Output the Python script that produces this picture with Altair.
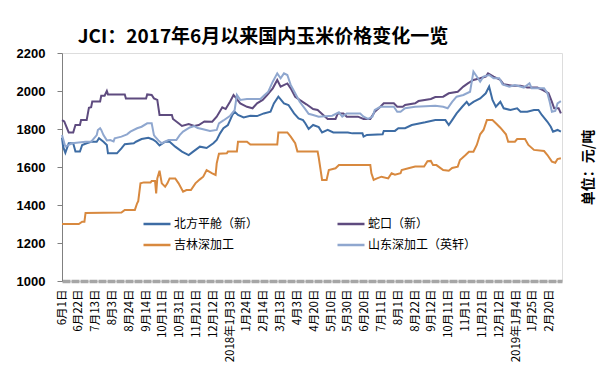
import altair as alt
import pandas as pd

tick_labels = ['6月1日', '6月22日', '7月13日', '8月3日', '8月24日', '9月14日', '10月11日', '10月31日',
               '11月21日', '12月12日', '2018年1月3日', '1月24日', '2月14日', '3月13日', '4月3日',
               '4月20日', '5月10日', '5月30日', '6月20日', '7月11日', '8月1日', '8月22日', '9月12日',
               '10月11日', '11月1日', '11月21日', '12月12日', '2019年1月4日', '1月25日', '2月20日']

series_names = ['北方平舱（新）', '吉林深加工', '蛇口（新）', '山东深加工（英轩）']
series_colors = ['#3D6CA4', '#D8893F', '#5E4B7F', '#8FA7CF']

# (trading-day index, price)
beifang = [(0,1755),(1,1707),(3,1675),(6,1725),(10,1725),(12,1681),(16,1681),(18,1716),(22,1725),(26,1733),
           (31,1733),(33,1751),(37,1733),(40,1716),(41,1672),(49,1672),(53,1698),(56,1720),(64,1725),(66,1733),
           (71,1747),(77,1754),(81,1745),(84,1733),(87,1714),(92,1733),(96,1733),(101,1707),(107,1681),(113,1663),
           (117,1681),(123,1707),(129,1700),(135,1725),(138,1742),(141,1777),(144,1804),(148,1821),(152,1874),
           (154,1891),(157,1874),(162,1861),(168,1870),(174,1868),(180,1882),(186,1891),(189,1935),(193,1970),
           (198,1935),(202,1926),(207,1882),(211,1856),(215,1847),(217,1830),(220,1800),(224,1821),(229,1810),
           (232,1782),(237,1795),(242,1782),(255,1782),(259,1777),(268,1777),(269,1760),(272,1769),(286,1772),
           (287,1790),(297,1790),(300,1804),(306,1804),(312,1821),(324,1835),(333,1847),(342,1847),(345,1821),
           (348,1847),(352,1882),(357,1917),(361,1943),(363,1926),(367,1943),(373,1961),(378,1988),(381,2023),
           (384,1953),(387,1917),(391,1943),(394,1909),(400,1900),(406,1909),(409,1891),(415,1891),(421,1900),
           (425,1900),(428,1874),(433,1838),(436,1812),(438,1786),(442,1795),(445,1786)]

shekou = [(0,1847),(2,1840),(6,1782),(10,1782),(12,1821),(16,1821),(17,1847),(22,1847),(24,1912),(26,1915),
          (27,1945),(34,1945),(35,1975),(38,1975),(40,2000),(41,1982),(56,1982),(57,1961),(75,1961),(76,1982),
          (80,1979),(82,1961),(85,1953),(87,1874),(98,1874),(99,1853),(104,1830),(107,1816),(113,1826),(118,1816),
          (122,1821),(127,1840),(134,1838),(138,1865),(143,1914),(146,1905),(150,1945),(153,1979),(155,1965),
          (159,1935),(165,1917),(170,1909),(174,1935),(179,1953),(183,1979),(188,2014),(192,2058),(195,2023),
          (201,2040),(204,2014),(208,1970),(212,1953),(218,1930),(224,1905),(228,1900),(233,1874),(237,1853),
          (244,1853),(246,1882),(251,1882),(254,1865),(264,1865),(269,1853),(275,1853),(279,1891),(284,1917),
          (287,1935),(296,1935),(299,1917),(304,1917),(306,1926),(315,1935),(318,1947),(329,1958),(333,1968),
          (340,1970),(345,1988),(353,1996),(358,2023),(362,2040),(367,2058),(373,2067),(378,2076),(380,2093),
          (385,2076),(391,2058),(394,2035),(402,2028),(409,2028),(415,2018),(424,2018),(429,2005),(434,1988),
          (437,1943),(439,1909),(443,1909),(445,1882)]

jilin = [(0,1300),(15,1300),(18,1312),(20,1312),(21,1358),(53,1360),(56,1374),(65,1374),(67,1409),(68,1420),
         (70,1514),(73,1519),(79,1519),(80,1526),(83,1526),(84,1461),(85,1540),(87,1580),(89,1514),(92,1496),
         (94,1514),(96,1540),(101,1540),(104,1514),(108,1470),(111,1479),(115,1479),(119,1514),(123,1535),
         (126,1549),(129,1584),(134,1567),(137,1558),(138,1619),(140,1670),(147,1672),(148,1681),(156,1681),
         (157,1733),(165,1733),(168,1718),(192,1718),(193,1782),(201,1782),(204,1760),(208,1725),(210,1681),
         (228,1681),(229,1650),(232,1532),(236,1532),(238,1584),(244,1593),(247,1610),(275,1610),(276,1567),
         (278,1532),(281,1540),(285,1549),(291,1540),(294,1567),(297,1560),(302,1567),(303,1584),(309,1593),
         (315,1602),(323,1602),(326,1630),(329,1632),(331,1610),(334,1610),(340,1584),(345,1580),(348,1595),
         (353,1602),(355,1637),(360,1663),(363,1680),(367,1680),(370,1716),(373,1772),(376,1795),(379,1847),
         (384,1847),(387,1830),(391,1807),(396,1772),(398,1733),(404,1733),(406,1747),(413,1747),(416,1716),
         (421,1690),(430,1684),(433,1663),(437,1628),(440,1622),(442,1642),(445,1646)]

shandong = [(0,1768),(3,1707),(6,1716),(9,1725),(21,1733),(26,1733),(31,1768),(32,1795),(34,1804),(35,1795),
            (37,1768),(40,1740),(43,1742),(46,1735),(47,1751),(53,1760),(58,1772),(61,1786),(67,1804),(71,1812),
            (76,1830),(80,1830),(82,1768),(83,1760),(86,1740),(89,1725),(95,1742),(102,1742),(105,1768),(108,1786),
            (114,1808),(118,1815),(121,1805),(125,1800),(132,1790),(138,1795),(140,1830),(144,1845),(150,1870),
            (154,1900),(156,1979),(159,1953),(165,1958),(177,1958),(180,1975),(184,1996),(188,2049),(192,2093),
            (195,2067),(198,2093),(201,2084),(204,2032),(208,1988),(212,1943),(217,1905),(220,1880),(224,1874),
            (229,1865),(241,1870),(247,1888),(250,1865),(254,1882),(266,1882),(269,1865),(273,1853),(277,1865),
            (279,1900),(284,1917),(296,1917),(299,1891),(302,1891),(306,1909),(315,1917),(333,1922),(340,1917),
            (344,1909),(348,1943),(352,1970),(358,1979),(364,1996),(367,2102),(370,2076),(373,2049),(376,2076),
            (381,2084),(385,2067),(390,2067),(393,2035),(399,2023),(404,2032),(412,2018),(417,2040),(419,2014),
            (430,2014),(433,1988),(435,1943),(437,1891),(440,1895),(442,1935),(445,1947)]

rows = []
for name, pts in [('北方平舱（新）', beifang), ('蛇口（新）', shekou),
                  ('吉林深加工', jilin), ('山东深加工（英轩）', shandong)]:
    for order, (i, v) in enumerate(pts):
        rows.append({'series': name, 'i': i, 'price': v, 'order': order})
df = pd.DataFrame(rows)

label_js = "[" + ",".join("'" + t + "'" for t in tick_labels) + "]"
FONT = 'Noto Sans CJK SC'

x_enc = alt.X('i:Q',
              scale=alt.Scale(domain=[0, 446], nice=False, zero=False),
              axis=alt.Axis(values=[k * 15 for k in range(len(tick_labels))],
                            labelExpr=label_js + "[round(datum.value/15)]",
                            labelAngle=270, labelFont=FONT, labelFontSize=11.5, labelColor='#000000',
                            labelPadding=8, ticks=False, grid=False, title=None,
                            domainColor='#A6A6A6', domainWidth=3.5, domainDash=[8, 1],
                            labelOverlap=False, labelBound=False))

y_scale = alt.Scale(domain=[1000, 2200], nice=False, zero=False)

lines = alt.Chart(df).mark_line(strokeWidth=2).encode(
    x=x_enc,
    y=alt.Y('price:Q', scale=y_scale,
            axis=alt.Axis(values=[1000, 1200, 1400, 1600, 1800, 2000, 2200], format='d', grid=False, title=None,
                          labelFont='Liberation Sans', labelFontWeight='bold', labelFontSize=13,
                          labelColor='#000000', tickColor='#808080', tickSize=5, domainColor='#808080',
                          labelPadding=12)),
    color=alt.Color('series:N',
                    scale=alt.Scale(domain=series_names, range=series_colors),
                    legend=alt.Legend(title=None, orient='none', legendX=80, legendY=156, columns=2,
                                      columnPadding=73, rowPadding=-9, symbolType='stroke',
                                      symbolSize=729, symbolStrokeWidth=2.5, labelFont=FONT,
                                      labelFontSize=12, labelColor='#000000', labelOffset=2,
                                      padding=0)),
    order='order:Q'
)

unit = alt.Chart(df).mark_line(opacity=0).encode(
    x=x_enc,
    y=alt.Y('price:Q', scale=y_scale,
            axis=alt.Axis(orient='right', labels=False, ticks=False, domain=False, grid=False,
                          title='单位：元/吨', titleAngle=270, titleFont=FONT, titleFontWeight='bold',
                          titleFontSize=14, titleColor='#000000', titlePadding=33)),
    detail='series:N'
)

chart = alt.layer(lines, unit).resolve_axis(y='independent').properties(
    width=500, height=228,
    padding={'left': 62, 'top': 53, 'right': 45, 'bottom': 96},
    autosize=alt.AutoSizeParams(type='none'),
    title=alt.TitleParams('JCI：2017年6月以来国内玉米价格变化一览', font=FONT, fontSize=19,
                          fontWeight='bold', color='#000000', anchor='middle', dx=-49, offset=0)
).configure_view(stroke=None).configure(background='#FFFFFF')

chart.save('out.html', embed_options={'renderer': 'svg', 'actions': False})
